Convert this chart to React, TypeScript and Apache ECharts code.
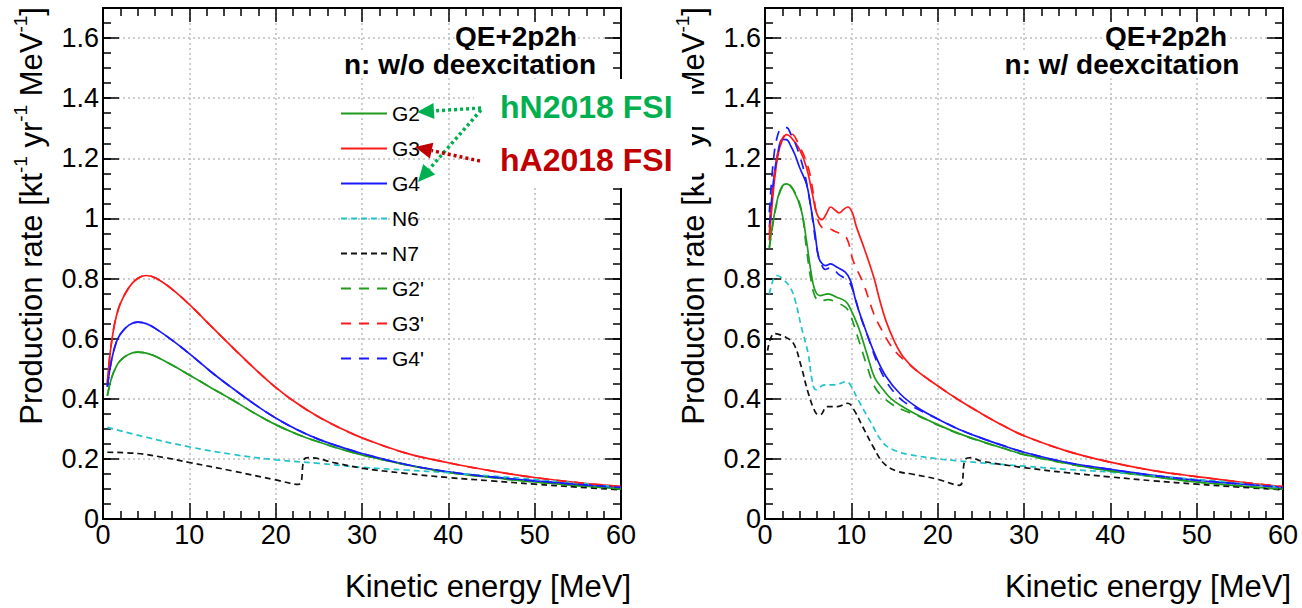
import React, { useEffect, useRef } from 'react';
import * as echarts from 'echarts';

const FONT = '"Liberation Sans", Arial, Helvetica, sans-serif';

const GREEN = '#1e9c1e';
const RED = '#ff1a1a';
const BLUE = '#1a1aff';
const CYAN = '#22c4cc';
const BLACK = '#111111';

// Kinetic energy [MeV] vs production rate [kt^-1 yr^-1 MeV^-1]
// Neutrons without deexcitation
const g2Bare: [number, number][] = [
  [0.5, 0.41], [1, 0.47], [1.5, 0.505], [2, 0.527], [3, 0.548], [4, 0.555], [5, 0.552],
  [6, 0.542], [8, 0.512], [10, 0.479], [12.5, 0.437], [15, 0.396], [17.5, 0.353],
  [20, 0.314], [22.5, 0.282], [25, 0.256], [27.5, 0.233], [30, 0.213], [35, 0.181],
  [40, 0.155], [45, 0.138], [50, 0.123], [55, 0.111], [60, 0.1],
];
const g3Bare: [number, number][] = [
  [0.5, 0.45], [1, 0.59], [1.8, 0.7], [3, 0.77], [4, 0.8], [5, 0.81], [6.2, 0.8],
  [8.2, 0.76], [10.5, 0.7], [12.5, 0.642], [15, 0.571], [17.5, 0.502], [20, 0.438],
  [22.5, 0.384], [25, 0.339], [27.5, 0.302], [30, 0.27], [35, 0.22], [40, 0.187],
  [45, 0.16], [50, 0.138], [55, 0.121], [60, 0.108],
];
const g4Bare: [number, number][] = [
  [0.5, 0.44], [1, 0.53], [1.5, 0.585], [2, 0.615], [3, 0.645], [4, 0.655], [5, 0.65],
  [6, 0.635], [8, 0.595], [10, 0.55], [12.5, 0.49], [15, 0.435], [17.5, 0.383],
  [20, 0.336], [22.5, 0.297], [25, 0.265], [27.5, 0.24], [30, 0.218], [35, 0.182],
  [40, 0.157], [45, 0.14], [50, 0.127], [55, 0.115], [60, 0.105],
];
const n6Bare: [number, number][] = [
  [0.5, 0.305], [5, 0.272], [10, 0.24], [15, 0.215], [20, 0.197], [25, 0.185],
  [30, 0.172], [35, 0.163], [40, 0.154], [45, 0.143], [50, 0.132], [55, 0.12], [60, 0.105],
];
const n7Bare: [number, number][] = [
  [0.5, 0.222], [4, 0.218], [7, 0.205], [10, 0.188], [15, 0.16], [20, 0.13],
  [22.6, 0.115], [23.3, 0.198], [23.8, 0.204], [27, 0.186], [30, 0.169], [35, 0.152],
  [40, 0.138], [45, 0.127], [50, 0.116], [55, 0.106], [60, 0.097],
];

// Neutrons with deexcitation
const g2Deex: [number, number][] = [
  [0.5, 0.904], [1, 1.0], [1.5, 1.07], [2, 1.108], [2.5, 1.115], [3.3, 1.093],
  [4.2, 1.027], [4.8, 0.927], [5.3, 0.827], [5.8, 0.76], [6.4, 0.743], [7.3, 0.749],
  [8.3, 0.738], [9.3, 0.725], [9.8, 0.705], [10.8, 0.64], [11.8, 0.55], [12.7, 0.47],
  [13.7, 0.43], [14.7, 0.398], [16.2, 0.369], [17.6, 0.347], [20, 0.314], [22.5, 0.284],
  [25, 0.259], [27.5, 0.236], [30, 0.215], [35, 0.185], [40, 0.16], [45, 0.141],
  [50, 0.123], [55, 0.11], [60, 0.099],
];
const g3Deex: [number, number][] = [
  [0.5, 0.927], [1, 1.1], [1.5, 1.21], [2, 1.26], [2.5, 1.279], [3, 1.27], [4, 1.23],
  [4.8, 1.17], [5.5, 1.08], [6, 1.016], [6.6, 0.996], [7.1, 1.015], [7.6, 1.038],
  [8.1, 1.028], [8.6, 1.018], [9.1, 1.03], [9.6, 1.038], [10.1, 1.02], [10.6, 0.971],
  [11.5, 0.9], [12.6, 0.804], [13.3, 0.727], [14, 0.66], [15, 0.59], [16, 0.54],
  [17.5, 0.495], [20, 0.443], [22.5, 0.395], [25, 0.352], [27.5, 0.312], [30, 0.277],
  [35, 0.226], [40, 0.189], [45, 0.161], [50, 0.141], [55, 0.123], [60, 0.108],
];
const g4Deex: [number, number][] = [
  [0.5, 0.97], [1, 1.13], [1.5, 1.22], [2, 1.263], [2.5, 1.262], [3, 1.24], [3.5, 1.21],
  [4, 1.17], [4.8, 1.115], [5.3, 1.04], [5.8, 0.95], [6.2, 0.871], [6.6, 0.85],
  [7, 0.843], [7.6, 0.849], [8.3, 0.838], [9.3, 0.821], [9.9, 0.793], [10.5, 0.727],
  [11.2, 0.665], [12.7, 0.55], [14, 0.475], [15.7, 0.415], [17.6, 0.372], [20, 0.333],
  [22.5, 0.298], [25, 0.27], [27.5, 0.245], [30, 0.222], [35, 0.188], [40, 0.165],
  [45, 0.145], [50, 0.129], [55, 0.117], [60, 0.105],
];
const n6Deex: [number, number][] = [
  [0.5, 0.749], [1, 0.8], [1.4, 0.81], [2, 0.8], [2.9, 0.771], [3.5, 0.727], [4.2, 0.64],
  [5, 0.55], [5.45, 0.463], [5.9, 0.43], [6.9, 0.446], [7.9, 0.446], [8.6, 0.45],
  [9.4, 0.457], [9.8, 0.45], [10.8, 0.396], [12.3, 0.319], [13.7, 0.253], [15.2, 0.226],
  [16.6, 0.215], [20, 0.2], [22.5, 0.193], [25, 0.187], [30, 0.176], [35, 0.165],
  [40, 0.156], [45, 0.143], [50, 0.132], [55, 0.12], [60, 0.105],
];
const n7Deex: [number, number][] = [
  [0.3, 0.56], [1.1, 0.617], [2.3, 0.606], [3.3, 0.584], [4.2, 0.507], [5, 0.42],
  [5.9, 0.352], [6.4, 0.347], [7.2, 0.374], [8.4, 0.374], [9.6, 0.385], [10.3, 0.363],
  [11.3, 0.308], [12.5, 0.242], [13.7, 0.187], [15.2, 0.16], [17.1, 0.149], [20, 0.132],
  [22.5, 0.112], [23.2, 0.198], [23.9, 0.204], [25, 0.193], [30, 0.171], [35, 0.154],
  [40, 0.14], [45, 0.127], [50, 0.116], [55, 0.106], [60, 0.097],
];
const g2pDeex: [number, number][] = [
  [0.5, 0.9], [1, 0.995], [1.5, 1.065], [2, 1.105], [2.5, 1.115], [3.3, 1.095],
  [4.2, 1.03], [4.8, 0.9], [5.3, 0.8], [5.8, 0.74], [6.4, 0.725], [7.3, 0.73],
  [8.3, 0.72], [9.3, 0.705], [9.8, 0.685], [10.8, 0.6], [11.8, 0.51], [12.7, 0.44],
  [13.7, 0.405], [14.7, 0.382], [16.2, 0.36], [17.6, 0.345], [20, 0.313], [22.5, 0.283],
  [25, 0.258], [27.5, 0.236], [30, 0.214], [35, 0.184], [40, 0.16], [45, 0.141],
  [50, 0.123], [55, 0.11], [60, 0.099],
];
const g3pDeex: [number, number][] = [
  [0.5, 0.95], [1, 1.12], [1.5, 1.22], [2, 1.265], [2.5, 1.28], [3, 1.282], [4, 1.24],
  [5, 1.17], [5.5, 1.1], [6, 1.01], [6.4, 0.977], [7, 0.965], [7.5, 0.965], [8, 0.958],
  [8.7, 0.949], [9.5, 0.932], [10.2, 0.86], [11.4, 0.783], [12.6, 0.683], [13.5, 0.63],
  [14.5, 0.58], [15.5, 0.545], [16.5, 0.52], [17.5, 0.495], [20, 0.443], [22.5, 0.395],
  [25, 0.352], [27.5, 0.312], [30, 0.277], [35, 0.226], [40, 0.189], [45, 0.161],
  [50, 0.141], [55, 0.123], [60, 0.108],
];
const g4pDeex: [number, number][] = [
  [0.5, 1.02], [1, 1.2], [1.5, 1.28], [2, 1.3], [2.5, 1.302], [3, 1.28], [3.5, 1.25],
  [4, 1.21], [4.5, 1.16], [5, 1.09], [5.5, 1.0], [6, 0.9], [6.5, 0.85], [7, 0.83],
  [7.5, 0.835], [8, 0.83], [8.5, 0.815], [9, 0.805], [9.5, 0.795], [10, 0.775],
  [10.5, 0.73], [11, 0.68], [12, 0.6], [13, 0.52], [14, 0.46], [15, 0.42], [16, 0.392],
  [17, 0.375], [20, 0.333], [22.5, 0.298], [25, 0.27], [27.5, 0.245], [30, 0.222],
  [35, 0.188], [40, 0.165], [45, 0.145], [50, 0.129], [55, 0.117], [60, 0.105],
];

const energyMax = 60;
const energyStep = 10;
const rateMax = 1.7;
const rateStep = 0.2;
const rateMinorStep = 0.05;

const SHORT_DASH = [6, 4];
const LONG_DASH = [10, 8];

const curves = [
  { name: 'G2', color: GREEN, dash: 'solid' as any, bare: g2Bare, deex: g2Deex },
  { name: 'G3', color: RED, dash: 'solid' as any, bare: g3Bare, deex: g3Deex },
  { name: 'G4', color: BLUE, dash: 'solid' as any, bare: g4Bare, deex: g4Deex },
  { name: 'N6', color: CYAN, dash: SHORT_DASH, bare: n6Bare, deex: n6Deex },
  { name: 'N7', color: BLACK, dash: SHORT_DASH, bare: n7Bare, deex: n7Deex },
  { name: "G2'", color: GREEN, dash: LONG_DASH, bare: g2Bare, deex: g2pDeex },
  { name: "G3'", color: RED, dash: LONG_DASH, bare: g3Bare, deex: g3pDeex },
  { name: "G4'", color: BLUE, dash: LONG_DASH, bare: g4Bare, deex: g4pDeex },
];

const GRID_W = 518;
const GRID_H = 511;
const GRID_TOP = 8;
const LEFT_X = 103;
const RIGHT_X = 765;

const frameLine = { show: true, onZero: false, lineStyle: { color: '#000', width: 2 } };
const tickStyle = { color: '#000', width: 1.5 };
const gridDots = { show: true, lineStyle: { color: '#bdbdbd', width: 1.5, type: [2, 3] as any } };

function xAxes(gridIndex: number) {
  return [
    {
      type: 'value', gridIndex, position: 'bottom', min: 0, max: energyMax, interval: energyStep,
      axisLine: frameLine,
      axisTick: { show: true, inside: true, length: 16, lineStyle: tickStyle },
      minorTick: { show: true, splitNumber: 5, length: 8, lineStyle: tickStyle },
      axisLabel: { show: true, margin: 2, fontSize: 27, color: '#000', fontFamily: FONT },
      splitLine: gridDots,
    },
    {
      type: 'value', gridIndex, position: 'top', min: 0, max: energyMax, interval: energyStep,
      axisLine: frameLine,
      axisTick: { show: true, inside: true, length: 14, lineStyle: tickStyle },
      minorTick: { show: true, splitNumber: 5, length: 8, lineStyle: tickStyle },
      axisLabel: { show: false },
      splitLine: { show: false },
    },
  ];
}

function yAxes(gridIndex: number) {
  const base = { type: 'value', gridIndex, min: 0, max: rateMax, axisLine: frameLine };
  return [
    {
      ...base, position: 'left', interval: rateStep,
      axisTick: { show: true, inside: true, length: 16, lineStyle: tickStyle },
      axisLabel: {
        show: true, margin: 4, fontSize: 27, color: '#000', fontFamily: FONT,
        showMaxLabel: false,
        formatter: (v: number) => String(Math.round(v * 10) / 10),
      },
      splitLine: gridDots,
    },
    {
      ...base, position: 'left', interval: rateMinorStep,
      axisTick: { show: true, inside: true, length: 8, lineStyle: tickStyle },
      axisLabel: { show: false }, splitLine: { show: false },
    },
    {
      ...base, position: 'right', interval: rateStep,
      axisTick: { show: true, inside: true, length: 16, lineStyle: tickStyle },
      axisLabel: { show: false }, splitLine: { show: false },
    },
    {
      ...base, position: 'right', interval: rateMinorStep,
      axisTick: { show: true, inside: true, length: 8, lineStyle: tickStyle },
      axisLabel: { show: false }, splitLine: { show: false },
    },
  ];
}

function arrow(x1: number, y1: number, x2: number, y2: number, color: string) {
  const dx = x2 - x1;
  const dy = y2 - y1;
  const len = Math.hypot(dx, dy);
  const ux = dx / len;
  const uy = dy / len;
  const headLen = 17;
  const headHalf = 8;
  const bx = x2 - ux * headLen;
  const by = y2 - uy * headLen;
  const px = -uy;
  const py = ux;
  return [
    {
      type: 'line', z: 110, silent: true,
      shape: { x1, y1, x2: bx, y2: by },
      style: { stroke: color, lineWidth: 3.5, lineDash: [3, 3] },
    },
    {
      type: 'polygon', z: 110, silent: true,
      shape: { points: [[x2, y2], [bx + px * headHalf, by + py * headHalf], [bx - px * headHalf, by - py * headHalf]] },
      style: { fill: color },
    },
  ];
}

function yTitle(x: number) {
  return {
    type: 'text', z: 50, x, y: 7, rotation: Math.PI / 2, silent: true,
    style: {
      text: 'Production rate [kt{s|-1} yr{s|-1} MeV{s|-1}]',
      fontSize: 31, fontFamily: FONT, fill: '#000',
      align: 'right', verticalAlign: 'middle', lineHeight: 40,
      rich: { s: { fontSize: 19, fontFamily: FONT, fill: '#000', lineHeight: 26, verticalAlign: 'top' } },
    },
  };
}

function xTitle(x: number) {
  return {
    type: 'text', z: 50, x, y: 586, silent: true,
    style: {
      text: 'Kinetic energy [MeV]', fontSize: 31, fontFamily: FONT, fill: '#000',
      align: 'right', verticalAlign: 'middle',
    },
  };
}

function boldLabel(text: string, x: number, y: number, size: number) {
  return {
    type: 'text', z: 60, x, y, silent: true,
    style: {
      text, fontSize: size, fontWeight: 'bold', fontFamily: FONT, fill: '#000',
      align: 'center', verticalAlign: 'middle', backgroundColor: '#fff', lineHeight: size,
    },
  };
}

export default function App() {
  const ref = useRef<HTMLDivElement>(null);

  useEffect(() => {
    document.body.style.margin = '0';
    if (!ref.current) return;
    const chart = echarts.init(ref.current, undefined, { renderer: 'svg' });

    const series: any[] = [];
    curves.forEach((c) => {
      series.push({
        name: c.name, type: 'line', xAxisIndex: 0, yAxisIndex: 0, data: c.bare,
        symbol: 'none', smooth: 0.4, color: c.color,
        lineStyle: { color: c.color, width: 1.7, type: c.dash },
      });
    });
    curves.forEach((c) => {
      series.push({
        name: c.name, type: 'line', xAxisIndex: 2, yAxisIndex: 4, data: c.deex,
        symbol: 'none', smooth: 0.4, color: c.color,
        lineStyle: { color: c.color, width: 1.7, type: c.dash },
      });
    });

    const option: any = {
      animation: false,
      backgroundColor: '#fff',
      grid: [
        { left: LEFT_X, top: GRID_TOP, width: GRID_W, height: GRID_H },
        { left: RIGHT_X, top: GRID_TOP, width: GRID_W, height: GRID_H },
      ],
      xAxis: [...xAxes(0), ...xAxes(1)],
      yAxis: [...yAxes(0), ...yAxes(1)],
      legend: {
        data: curves.map((c) => c.name),
        orient: 'vertical', left: 335, top: 98,
        itemWidth: 46, itemHeight: 14, itemGap: 14,
        selectedMode: false,
        itemStyle: { opacity: 0 },
        textStyle: { fontSize: 21, lineHeight: 21, color: '#000', fontFamily: FONT },
      },
      series,
      graphic: [
        yTitle(31),
        yTitle(RIGHT_X - 72),
        xTitle(631),
        xTitle(1291),
        boldLabel('QE+2p2h', 516, 36, 28),
        boldLabel('n: w/o deexcitation', 470, 64, 28),
        boldLabel('QE+2p2h', 1166, 36, 28),
        boldLabel('n: w/ deexcitation', 1122, 64, 28),
        {
          type: 'rect', z: 100, silent: true,
          shape: { x: 474, y: 79, width: 218, height: 109 },
          style: { fill: '#fff' },
        },
        ...arrow(481, 108, 417, 112, '#00b050'),
        ...arrow(481, 110, 418, 182, '#00b050'),
        ...arrow(480, 161, 415, 147, '#c00000'),
        {
          type: 'text', z: 110, x: 500, y: 107, silent: true,
          style: {
            text: 'hN2018 FSI', fontSize: 32, fontWeight: 'bold', fontFamily: FONT,
            fill: '#00b050', align: 'left', verticalAlign: 'middle',
          },
        },
        {
          type: 'text', z: 110, x: 500, y: 160, silent: true,
          style: {
            text: 'hA2018 FSI', fontSize: 32, fontWeight: 'bold', fontFamily: FONT,
            fill: '#c00000', align: 'left', verticalAlign: 'middle',
          },
        },
      ],
    };

    chart.setOption(option);
    return () => chart.dispose();
  }, []);

  return <div ref={ref} style={{ width: 1302, height: 608 }} />;
}
